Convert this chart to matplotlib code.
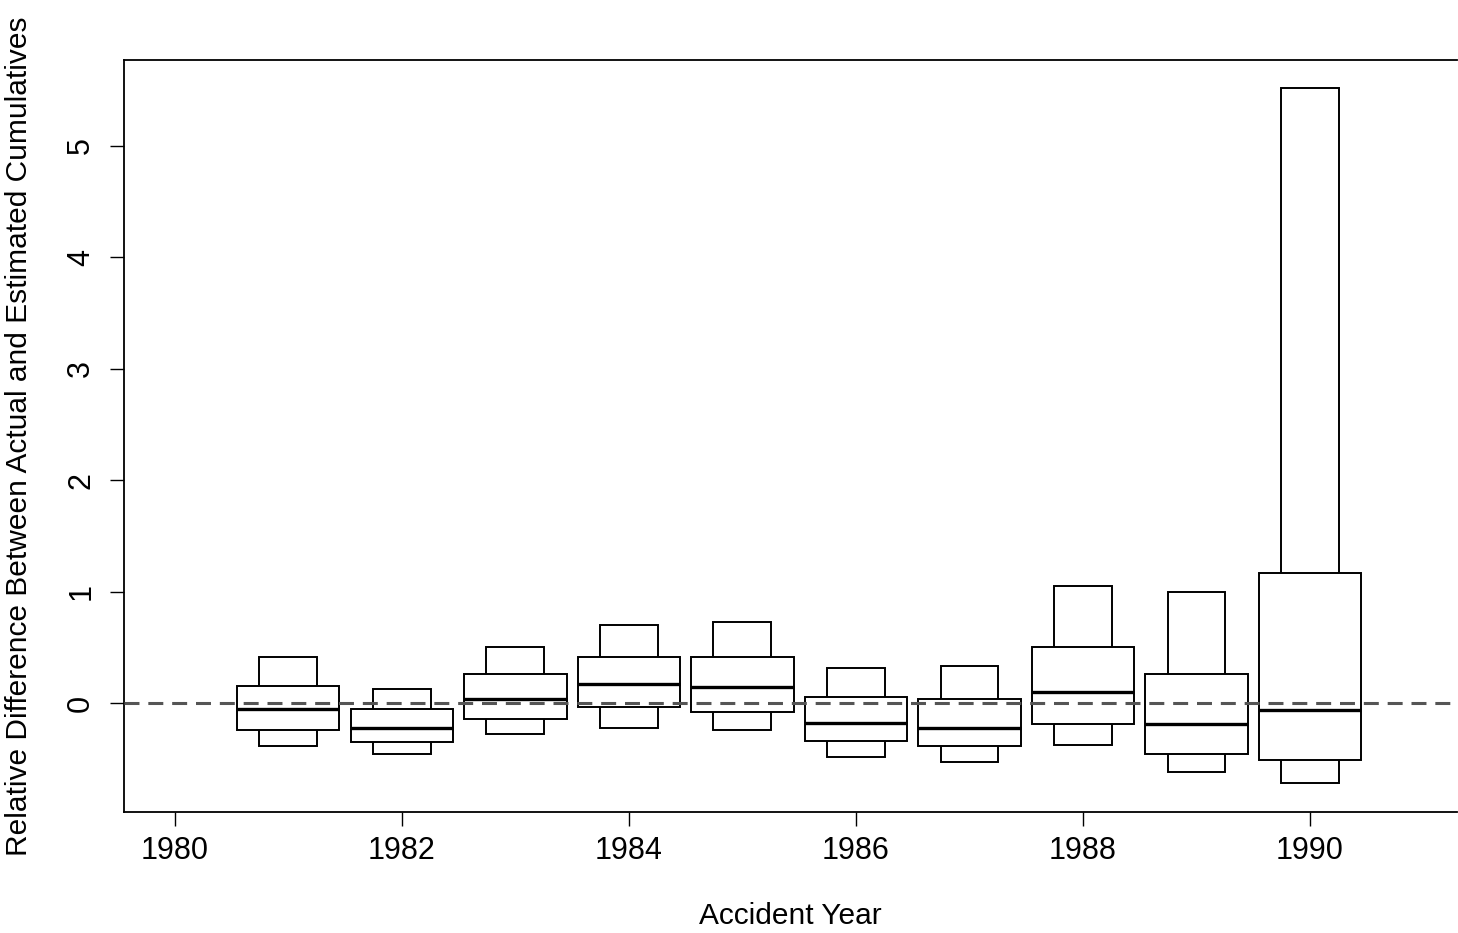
import numpy as np
import matplotlib
matplotlib.use("Agg")
import matplotlib.pyplot as plt

plt.rcParams['font.family'] = ['Liberation Sans', 'DejaVu Sans']

# relative difference quantiles per accident year
years = [1981, 1982, 1983, 1984, 1985, 1986, 1987, 1988, 1989, 1990]
upper = [0.41, 0.13, 0.50, 0.70, 0.73, 0.31, 0.33, 1.05, 1.00, 5.52]
q3 = [0.15, -0.05, 0.26, 0.41, 0.41, 0.05, 0.04, 0.50, 0.26, 1.17]
median = [-0.05, -0.22, 0.04, 0.17, 0.14, -0.18, -0.22, 0.10, -0.19, -0.06]
q1 = [-0.24, -0.35, -0.14, -0.04, -0.08, -0.34, -0.39, -0.19, -0.46, -0.51]
lower = [-0.39, -0.46, -0.28, -0.22, -0.24, -0.48, -0.53, -0.38, -0.62, -0.72]

xticks = [1980, 1982, 1984, 1986, 1988, 1990]
yticks = [0, 1, 2, 3, 4, 5]

fig = plt.figure(figsize=(14.58, 9.33), dpi=100)
ax = fig.add_axes([0.085, 0.1297, 0.9143, 0.806])

x = np.array(years)
lo = np.array(lower)
hi = np.array(upper)
a = np.array(q1)
b = np.array(q3)

# outer (narrow) boxes, then inner (wide) boxes on top
ax.bar(x, hi - lo, bottom=lo, width=0.51, color='white', edgecolor='black', linewidth=1.4, zorder=2)
ax.bar(x, b - a, bottom=a, width=0.9, color='white', edgecolor='black', linewidth=1.4, zorder=3)
ax.hlines(median, x - 0.45, x + 0.45, colors='black', linewidth=2.4, zorder=4)

ax.axhline(0, color='#555555', linestyle=(0, (4.9, 2.9)), linewidth=2.2, zorder=5)

ax.set_xlim(1979.551, 1991.295)
ax.set_ylim(-0.978, 5.772)
ax.set_xticks(xticks)
ax.set_yticks(yticks)
ax.set_yticklabels([str(t) for t in yticks], rotation=90, va='center')
ax.tick_params(labelsize=22, length=10, width=1, pad=7)
ax.tick_params(axis='y', pad=10)
for s in ax.spines.values():
    s.set_linewidth(1.3)
ax.spines['right'].set_visible(False)

ax.set_xlabel('Accident Year', fontsize=21.5, labelpad=26)
ax.set_ylabel('Relative Difference Between Actual and Estimated Cumulatives', fontsize=21.5, labelpad=24)

fig.savefig('out.png', dpi=100)
